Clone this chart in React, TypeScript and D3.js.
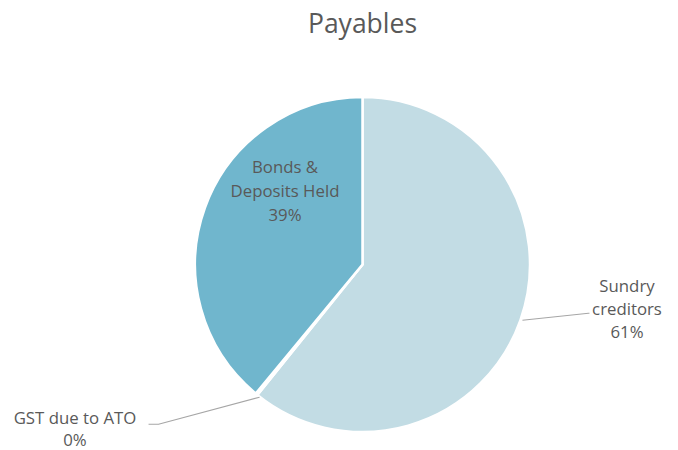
import React from "react";
import * as d3 from "d3";

const categories = ["Sundry creditors", "GST due to ATO", "Bonds & Deposits Held"];
const values = [60.8, 0.2, 39.0];
const percentLabels = ["61%", "0%", "39%"];
const colors = ["#C2DCE4", "#9ACAD9", "#70B6CD"];

const W = 678;
const H = 450;
const cx = 362.5;
const cy = 264.5;
const R = 167.5;
const FONT = "'Open Sans', 'DejaVu Sans', sans-serif";
const TEXT = "#595959";

export default function App() {
  const pie = d3.pie<number>().sort(null).value((d) => d);
  const arcs = pie(values);
  const arc = d3.arc<d3.PieArcDatum<number>>().innerRadius(0).outerRadius(R);
  const pt = (a: number, r: number) => [Math.sin(a) * r, -Math.cos(a) * r];

  const mid = (i: number) => (arcs[i].startAngle + arcs[i].endAngle) / 2;

  const s0 = pt(mid(0), R);
  const g0 = pt(mid(1), R);

  return (
    <svg width={W} height={H} style={{ position: "absolute", left: 0, top: 0 }}>
      <rect width={W} height={H} fill="#fff" />
      <text x={362.5} y={33} textAnchor="middle" fontFamily={FONT} fontSize={26.5} fill={TEXT}>
        Payables
      </text>
      <g transform={`translate(${cx},${cy})`}>
        {arcs.map((a, i) => (
          <path key={categories[i]} d={arc(a) || ""} fill={colors[i]} stroke="#fff" strokeWidth={2.5} strokeLinejoin="round" />
        ))}
        <polyline
          points={`${s0[0] + 2},${s0[1]} ${s0[0] + 68},${s0[1] - 7} ${s0[0] + 69},${s0[1] - 7}`}
          fill="none"
          stroke="#A6A6A6"
          strokeWidth={1.2}
        />
        <polyline
          points={`${g0[0] + 3},${g0[1] + 3} ${g0[0] - 98},${g0[1] + 30} ${g0[0] - 108},${g0[1] + 30}`}
          fill="none"
          stroke="#A6A6A6"
          strokeWidth={1.2}
        />
      </g>
      <g fontFamily={FONT} fontSize={16.8} fill={TEXT} textAnchor="middle">
        <text x={627} y={292}>Sundry</text>
        <text x={627} y={315}>creditors</text>
        <text x={627} y={338}>{percentLabels[0]}</text>

        <text x={75} y={424}>GST due to ATO</text>
        <text x={75} y={446}>{percentLabels[1]}</text>

        <text x={285} y={173}>Bonds &amp;</text>
        <text x={285} y={197}>Deposits Held</text>
        <text x={285} y={221}>{percentLabels[2]}</text>
      </g>
    </svg>
  );
}
